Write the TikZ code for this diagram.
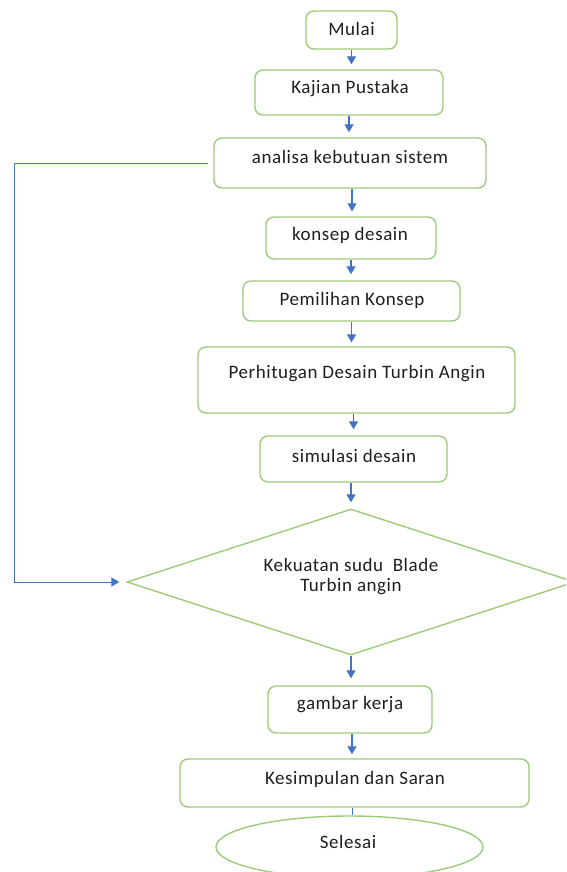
\documentclass[tikz,border=0pt]{standalone}
\usepackage{fontspec}
\setmainfont[LetterSpace=3]{Carlito}
\usetikzlibrary{shapes.geometric,arrows.meta}
\definecolor{boxgreen}{HTML}{9CCB7C}
\definecolor{arrblue}{HTML}{4472C4}
\tikzset{
  box/.style={draw=boxgreen, line width=1.4pt, rounded corners=8pt, fill=white, inner sep=0pt},
  txt/.style={font=\fontsize{19}{22}\selectfont, inner sep=0pt, text=black!88},
  arr/.style={draw=arrblue, line width=1.2pt, -{Triangle[length=8pt,width=9pt]}, shorten >=5pt},
  plainline/.style={draw=arrblue, line width=1.2pt}
}
\begin{document}
\begin{tikzpicture}[x=1pt,y=-1pt]
\useasboundingbox (0,0) rectangle (566,872);
\clip (0,0) rectangle (566,872);
\fill[white] (0,0) rectangle (566,872);

% boxes
\node[box, minimum width=91pt, minimum height=38pt] (mulai) at (351.5,30) {};
\node[txt] (tmulai) at (351.5,29) {Mulai};

\node[box, minimum width=188pt, minimum height=45pt] (kajian) at (349,92.5) {};
\node[txt] (tkajian) at (350,89) {Kajian Pustaka};

\node[box, minimum width=272pt, minimum height=50pt] (analisa) at (350,163) {};
\node[txt] (tanalisa) at (350,157) {analisa kebutuan sistem};

\node[box, minimum width=170pt, minimum height=42pt] (konsep) at (351,238) {};
\node[txt] (tkonsep) at (350,235) {konsep desain};

\node[box, minimum width=217pt, minimum height=40pt] (pemilihan) at (351.5,301) {};
\node[txt] (tpemilihan) at (352,300) {Pemilihan Konsep};

\node[box, minimum width=317pt, minimum height=66pt] (perhitungan) at (356.5,380) {};
\node[txt] (tperhitungan) at (357,374) {Perhitugan Desain Turbin Angin};

\node[box, minimum width=187pt, minimum height=46pt] (simulasi) at (353.5,459) {};
\node[txt] (tsimulasi) at (354,456) {simulasi desain};

\node[diamond, draw=boxgreen, line width=1.4pt, minimum width=448pt, minimum height=146pt, inner sep=0pt] (dia) at (351,582) {};
\node[txt, align=center] (tdia1) at (351,565) {Kekuatan sudu\ \ Blade};
\node[txt, align=center] (tdia2) at (351,587) {Turbin angin};

\node[box, minimum width=164pt, minimum height=47pt] (gambar) at (350,709.5) {};
\node[txt] (tgambar) at (350,705) {gambar kerja};

\node[box, minimum width=349pt, minimum height=48pt] (kesimpulan) at (354.5,783) {};
\node[txt] (tkesimpulan) at (355,779) {Kesimpulan dan Saran};

\node[ellipse, draw=boxgreen, line width=1.4pt, minimum width=267pt, minimum height=62pt, inner sep=0pt] (selesai) at (349.5,847) {};
\node[txt] (tselesai) at (348,842) {Selesai};

% connectors
\draw[arr] (mulai.south) -- (mulai.south |- kajian.north);
\draw[arr] (kajian.south) -- (kajian.south |- analisa.north);
\draw[arr] ([xshift=2pt]analisa.south) -- ([xshift=2pt]analisa.south |- konsep.north);
\draw[arr, shorten >=6pt] (konsep.south) -- (konsep.south |- pemilihan.north);
\draw[arr, shorten >=4pt] (pemilihan.south) -- (pemilihan.south |- perhitungan.north);
\draw[arr, shorten >=6pt] (simulasi.north |- perhitungan.south) -- (simulasi.north);
\draw[arr, shorten >=6pt] (dia.north |- simulasi.south) -- (dia.north);
\draw[arr, shorten >=7pt] (dia.south) -- (dia.south |- gambar.north);
\draw[arr, shorten >=4pt] ([xshift=2pt]gambar.south) -- ([xshift=2pt]gambar.south |- kesimpulan.north);
\draw[plainline] ([xshift=-2pt]kesimpulan.south) -- ([xshift=-2pt]kesimpulan.south |- selesai.north);

% feedback loop
\coordinate (loopc) at (14,163);
\draw[arr, line width=1pt, shorten >=7pt] ([xshift=-5pt]analisa.west) -- (loopc) |- (dia.west);
\end{tikzpicture}
\end{document}
